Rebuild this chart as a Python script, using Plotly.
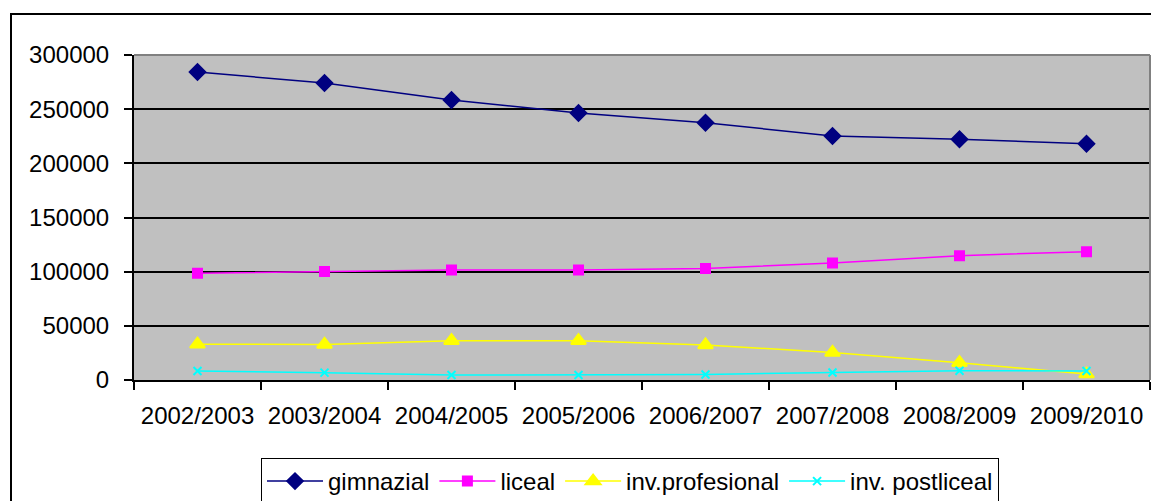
"""Pupils by education level, 2002/2003 - 2009/2010 (Excel-style line chart)."""

import plotly.graph_objects as go

YEARS = [
    "2002/2003", "2003/2004", "2004/2005", "2005/2006",
    "2006/2007", "2007/2008", "2008/2009", "2009/2010",
]
GIMNAZIAL = [284300, 274100, 258500, 246500, 237500, 225200, 222200, 218100]
LICEAL = [98500, 100200, 101500, 101500, 103000, 108000, 114800, 118500]
PROFESIONAL = [33000, 32800, 36300, 36300, 32300, 25500, 16000, 5500]
POSTLICEAL = [8300, 6800, 4600, 4600, 5000, 7000, 8600, 8300]

FONT = "Liberation Sans, Arial, sans-serif"

# name, values, colour, marker symbol, marker size
SERIES = [
    ("gimnazial", GIMNAZIAL, "#000080", "diamond", 12),
    ("liceal", LICEAL, "#FF00FF", "square", 9),
    ("inv.profesional", PROFESIONAL, "#FFFF00", "triangle-up", 13),
    ("inv. postliceal", POSTLICEAL, "#00FFFF", "x-thin", 8),
]

fig = go.Figure()
for name, vals, color, symbol, size in SERIES:
    fig.add_trace(go.Scatter(
        x=YEARS, y=vals, name=name, mode="lines+markers",
        line=dict(color=color, width=1.5),
        marker=dict(symbol=symbol, size=size, color=color,
                    line=dict(color=color, width=2)),
    ))

W, H = 1151, 501
L, R, T, B = 134, 1, 55, 121
pw = W - L - R
ph = H - T - B

fig.update_layout(
    width=W, height=H,
    margin=dict(l=L, r=R, t=T, b=B, autoexpand=False),
    paper_bgcolor="white",
    plot_bgcolor="#C0C0C0",
    font=dict(family=FONT, size=24, color="black"),
    showlegend=True,
    legend=dict(
        orientation="h", x=(630 - L) / pw, xanchor="center",
        y=-(458 - T - ph) / ph, yanchor="top",
        bordercolor="black", borderwidth=1, bgcolor="white",
        font=dict(size=24), itemwidth=56, tracegroupgap=0,
    ),
    xaxis=dict(
        type="category", tickson="boundaries", ticks="outside", ticklen=8,
        tickcolor="black", tickwidth=2, showgrid=False,
        showline=True, linecolor="black", linewidth=2,
        ticklabelstandoff=13, range=[-0.5, 7.5], automargin=False,
    ),
    yaxis=dict(
        range=[0, 300000], dtick=50000, tickformat="d",
        ticks="outside", ticklen=8, tickcolor="black", tickwidth=2,
        showgrid=True, gridcolor="black", gridwidth=2,
        showline=True, linecolor="black", linewidth=2,
        zeroline=False, ticklabelstandoff=10, automargin=False,
    ),
    shapes=[
        # grey frame on top/right of the plot area
        dict(type="line", xref="paper", yref="paper", x0=0, x1=1, y0=1, y1=1,
             line=dict(color="#808080", width=2)),
        dict(type="line", xref="paper", yref="paper", x0=1, x1=1, y0=0, y1=1,
             line=dict(color="#808080", width=2)),
        # outer chart border (runs off the right and bottom edges)
        dict(type="rect", xref="paper", yref="paper",
             x0=(11 - L) / pw, x1=(W + 10 - L) / pw,
             y0=-(H + 10 - T - ph) / ph, y1=(T + ph - 14) / ph,
             line=dict(color="black", width=2), layer="below"),
    ],
)

# drop the default body margin so the figure fills the window exactly
fig.write_html(
    "out.html",
    config={"displayModeBar": False},
    post_script="document.body.style.margin='0';"
                "document.body.style.overflow='hidden';",
)
